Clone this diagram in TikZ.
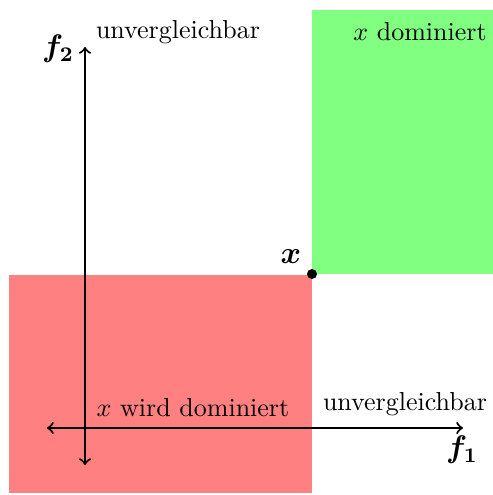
\documentclass[tikz,border=0pt]{standalone}
\usepackage{amsmath}
\begin{document}
\begin{tikzpicture}[x=0.385pt,y=-0.385pt,
  axis/.style={thick,<->,>=to},
  lbl/.style={inner sep=0pt},
  big/.style={inner sep=0pt,font=\large}]
\useasboundingbox (0,0) rectangle (493,495);
\fill[red!50] (9,275) rectangle (312,493);
\fill[green!50] (312,10) rectangle (493,274);
\coordinate (xl) at (47,428);
\coordinate (xr) at (463,428);
\coordinate (yt) at (85,47);
\coordinate (yb) at (85,465);
\draw[axis] (xl) -- (xr);
\draw[axis] (yb) -- (yt);
\fill (312,274) circle (5);
\node[big] (px) at (291,257) {$\boldsymbol{x}$};
\node[big] (f2) at (58,49) {$\boldsymbol{f_2}$};
\node[big] (f1) at (462,450) {$\boldsymbol{f_1}$};
\node[lbl] (u1) at (178,32) {unvergleichbar};
\node[lbl] (u2) at (405,404) {unvergleichbar};
\node[lbl] (dom) at (420,32) {$x$ dominiert};
\node[lbl] (wd) at (193,408) {$x$ wird dominiert};
\end{tikzpicture}
\end{document}
